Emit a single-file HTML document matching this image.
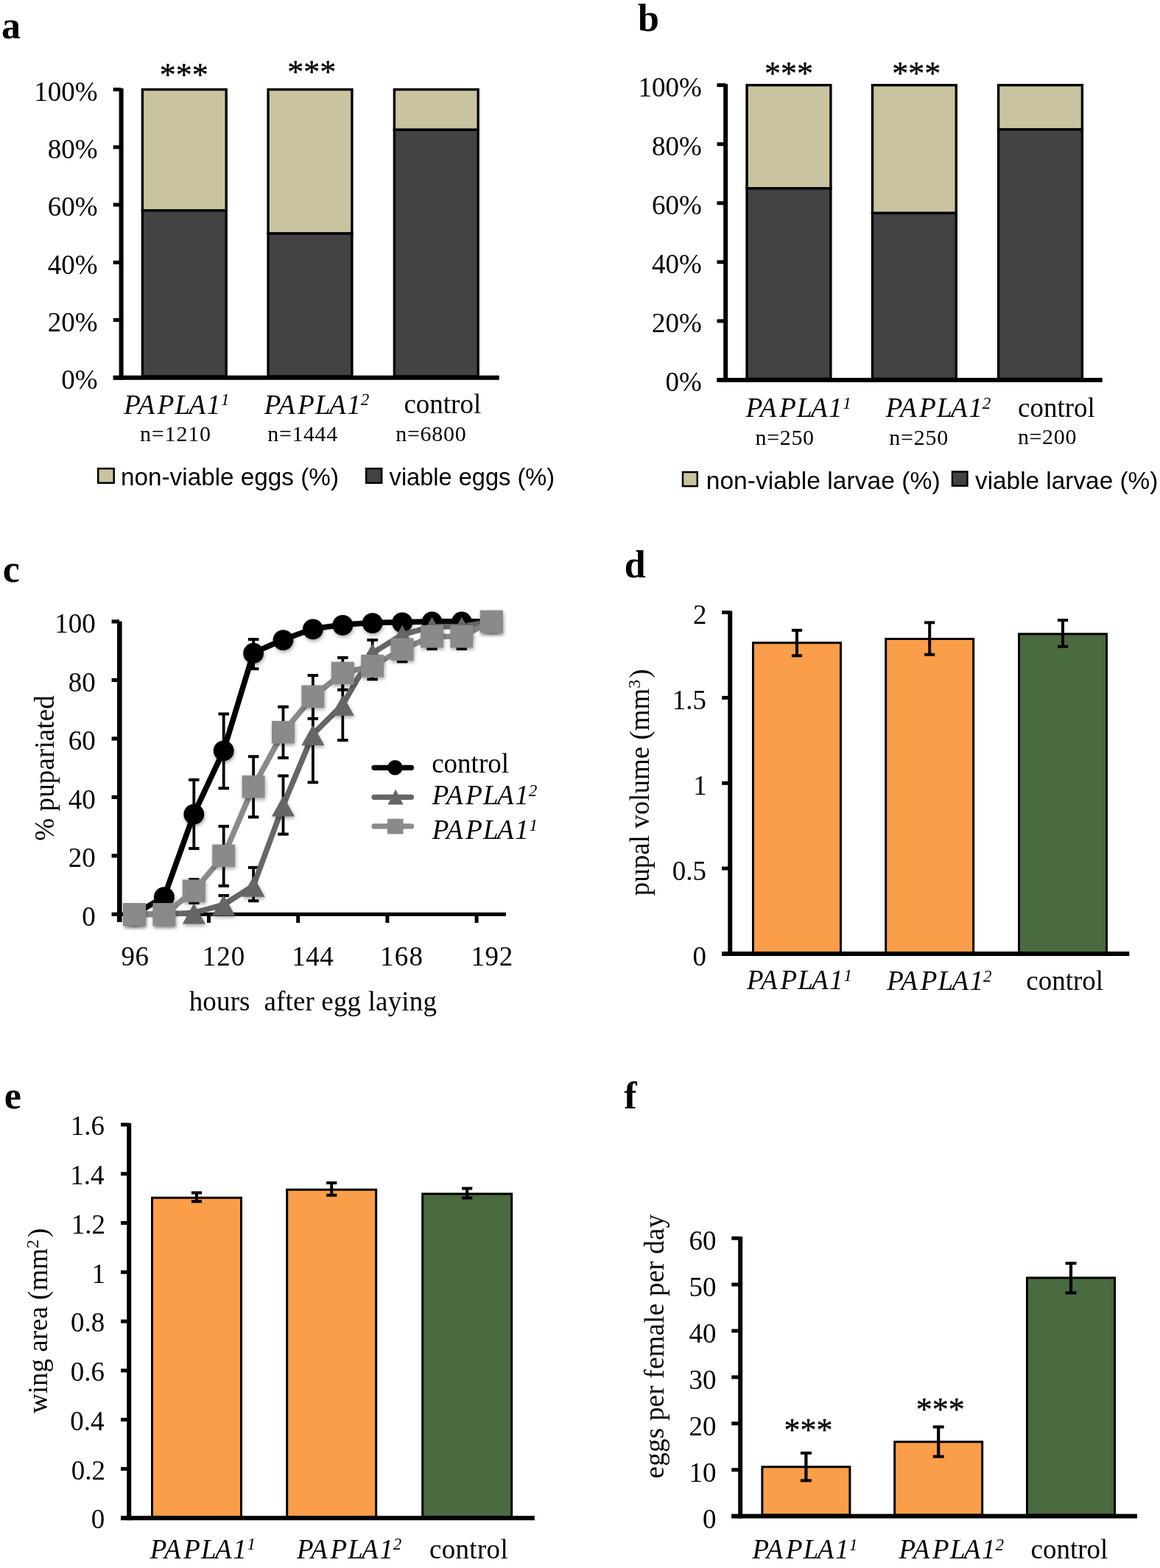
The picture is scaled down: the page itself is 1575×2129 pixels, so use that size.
<!DOCTYPE html>
<html><head><meta charset="utf-8"><title>Figure</title>
<style>
html,body{margin:0;padding:0;background:#fff;}
svg{display:block;}
text{font-family:"Liberation Serif", "Times New Roman", serif;fill:#000;font-kerning:none;}
.s{font-family:"Liberation Sans", Arial, sans-serif;}
</style></head>
<body>
<svg width="1575" height="2129" viewBox="0 0 1575 2129">
<defs>
<filter id="sh" x="-10%" y="-10%" width="130%" height="130%">
<feDropShadow dx="1" dy="2.5" stdDeviation="2.5" flood-color="#000" flood-opacity="0.35"/>
</filter>
</defs>
<rect width="1575" height="2129" fill="#fff"/>
<text x="1.9" y="51.9" font-size="52" font-weight="bold">a</text>
<text x="866.0" y="41.9" font-size="52" font-weight="bold">b</text>
<text x="3.8" y="790.0" font-size="52" font-weight="bold">c</text>
<text x="847.7" y="783.7" font-size="52" font-weight="bold">d</text>
<text x="5.8" y="1505.0" font-size="52" font-weight="bold">e</text>
<text x="847.2" y="1505.0" font-size="52" font-weight="bold">f</text>
<rect x="193.4" y="121.5" width="113.8" height="164.3" fill="#C9C49F" stroke="#000" stroke-width="3.4"/>
<rect x="193.4" y="285.8" width="113.8" height="225.3" fill="#434343" stroke="#000" stroke-width="3.4"/>
<rect x="364.1" y="121.5" width="113.8" height="195.6" fill="#C9C49F" stroke="#000" stroke-width="3.4"/>
<rect x="364.1" y="317.1" width="113.8" height="193.9" fill="#434343" stroke="#000" stroke-width="3.4"/>
<rect x="535.4" y="121.5" width="113.8" height="54.8" fill="#C9C49F" stroke="#000" stroke-width="3.4"/>
<rect x="535.4" y="176.3" width="113.8" height="334.8" fill="#434343" stroke="#000" stroke-width="3.4"/>
<rect x="161.6" y="120.0" width="6.0" height="395.8" fill="#000"/>
<rect x="153.7" y="509.8" width="524.0" height="6.0" fill="#000"/>
<rect x="153.7" y="510.3" width="10.9" height="5.0" fill="#000"/>
<rect x="153.7" y="432.0" width="10.9" height="5.0" fill="#000"/>
<rect x="153.7" y="353.8" width="10.9" height="5.0" fill="#000"/>
<rect x="153.7" y="275.5" width="10.9" height="5.0" fill="#000"/>
<rect x="153.7" y="197.3" width="10.9" height="5.0" fill="#000"/>
<rect x="153.7" y="119.0" width="10.9" height="5.0" fill="#000"/>
<text x="83.3" y="528.0" font-size="37">0%</text>
<text x="64.8" y="449.7" font-size="37">20%</text>
<text x="64.8" y="371.5" font-size="37">40%</text>
<text x="64.8" y="293.2" font-size="37">60%</text>
<text x="64.8" y="215.0" font-size="37">80%</text>
<text x="46.3" y="136.7" font-size="37">100%</text>
<text x="249.8" y="115.7" font-size="44" text-anchor="middle" stroke="#000" stroke-width="0.4">***</text>
<text x="423.3" y="111.5" font-size="44" text-anchor="middle" stroke="#000" stroke-width="0.4">***</text>
<text x="168.3 187.4 213.8 237.6 256.5 280.7" y="561.6" font-size="37" font-style="italic">PAPLA1<tspan x="299.9" font-size="23" dy="-11.2">1</tspan></text>
<text x="358.8 377.9 404.3 428.1 447.0 471.2" y="561.6" font-size="37" font-style="italic">PAPLA1<tspan x="489.7" font-size="23" dy="-11.2">2</tspan></text>
<text x="548.4" y="561.0" font-size="37">control</text>
<text x="190.0" y="599.2" font-size="30" letter-spacing="0.84">n=1210</text>
<text x="363.3" y="599.2" font-size="30" letter-spacing="0.59">n=1444</text>
<text x="537.3" y="599.0" font-size="30" letter-spacing="0.70">n=6800</text>
<rect x="133.2" y="636.2" width="21.5" height="19.5" fill="#C9C49F" stroke="#000" stroke-width="2.5"/>
<text x="164" y="659" class="s" font-size="33" textLength="296" lengthAdjust="spacingAndGlyphs">non-viable eggs (%)</text>
<rect x="497.2" y="636.2" width="21.0" height="19.5" fill="#434343" stroke="#000" stroke-width="2.5"/>
<text x="528.6" y="659" class="s" font-size="33" textLength="224.5" lengthAdjust="spacingAndGlyphs">viable eggs (%)</text>
<rect x="1014.1" y="115.6" width="113.8" height="140.1" fill="#C9C49F" stroke="#000" stroke-width="3.4"/>
<rect x="1014.1" y="255.7" width="113.8" height="258.6" fill="#434343" stroke="#000" stroke-width="3.4"/>
<rect x="1184.5" y="115.6" width="113.8" height="173.8" fill="#C9C49F" stroke="#000" stroke-width="3.4"/>
<rect x="1184.5" y="289.4" width="113.8" height="224.9" fill="#434343" stroke="#000" stroke-width="3.4"/>
<rect x="1355.6" y="115.6" width="113.8" height="60.1" fill="#C9C49F" stroke="#000" stroke-width="3.4"/>
<rect x="1355.6" y="175.7" width="113.8" height="338.6" fill="#434343" stroke="#000" stroke-width="3.4"/>
<rect x="982.2" y="114.1" width="6.0" height="404.9" fill="#000"/>
<rect x="973.5" y="513.0" width="523.2" height="6.0" fill="#000"/>
<rect x="973.5" y="513.5" width="11.7" height="5.0" fill="#000"/>
<rect x="973.5" y="433.4" width="11.7" height="5.0" fill="#000"/>
<rect x="973.5" y="353.3" width="11.7" height="5.0" fill="#000"/>
<rect x="973.5" y="273.3" width="11.7" height="5.0" fill="#000"/>
<rect x="973.5" y="193.2" width="11.7" height="5.0" fill="#000"/>
<rect x="973.5" y="113.1" width="11.7" height="5.0" fill="#000"/>
<text x="903.6" y="531.0" font-size="37">0%</text>
<text x="885.1" y="450.9" font-size="37">20%</text>
<text x="885.1" y="370.8" font-size="37">40%</text>
<text x="885.1" y="290.8" font-size="37">60%</text>
<text x="885.1" y="210.7" font-size="37">80%</text>
<text x="866.6" y="130.6" font-size="37">100%</text>
<text x="1071.1" y="113.8" font-size="44" text-anchor="middle" stroke="#000" stroke-width="0.4">***</text>
<text x="1244.2" y="114.2" font-size="44" text-anchor="middle" stroke="#000" stroke-width="0.4">***</text>
<text x="1012.7 1031.8 1058.2 1082.0 1100.9 1125.1" y="566.2" font-size="37" font-style="italic">PAPLA1<tspan x="1144.3" font-size="23" dy="-11.2">1</tspan></text>
<text x="1202.8 1221.9 1248.3 1272.1 1291.0 1315.2" y="566.3" font-size="37" font-style="italic">PAPLA1<tspan x="1333.7" font-size="23" dy="-11.2">2</tspan></text>
<text x="1382.0" y="565.8" font-size="37">control</text>
<text x="1025.6" y="603.6" font-size="30" letter-spacing="0.65">n=250</text>
<text x="1207.3" y="603.6" font-size="30" letter-spacing="0.73">n=250</text>
<text x="1381.9" y="603.4" font-size="30" letter-spacing="0.65">n=200</text>
<rect x="927.0" y="641.0" width="19.8" height="19.1" fill="#C9C49F" stroke="#000" stroke-width="2.5"/>
<text x="958.7" y="664" class="s" font-size="33" textLength="318" lengthAdjust="spacingAndGlyphs">non-viable larvae (%)</text>
<rect x="1293.0" y="640.5" width="20.4" height="19.1" fill="#434343" stroke="#000" stroke-width="2.5"/>
<text x="1324" y="664" class="s" font-size="33" textLength="248.3" lengthAdjust="spacingAndGlyphs">viable larvae (%)</text>
<rect x="159.0" y="843.5" width="6.6" height="408.5" fill="#000"/>
<rect x="159.0" y="1238.9" width="528.0" height="5.0" fill="#000"/>
<rect x="151.6" y="1238.8" width="10.4" height="5.2" fill="#000"/>
<rect x="151.6" y="1159.3" width="10.4" height="5.2" fill="#000"/>
<rect x="151.6" y="1079.8" width="10.4" height="5.2" fill="#000"/>
<rect x="151.6" y="1000.3" width="10.4" height="5.2" fill="#000"/>
<rect x="151.6" y="920.8" width="10.4" height="5.2" fill="#000"/>
<rect x="151.6" y="841.3" width="10.4" height="5.2" fill="#000"/>
<rect x="281.0" y="1241.0" width="5.0" height="12.0" fill="#000"/>
<rect x="402.2" y="1241.0" width="5.0" height="12.0" fill="#000"/>
<rect x="523.4" y="1241.0" width="5.0" height="12.0" fill="#000"/>
<rect x="644.6" y="1241.0" width="5.0" height="12.0" fill="#000"/>
<text x="111.3" y="1256.7" font-size="37">0</text>
<text x="92.8" y="1177.2" font-size="37">20</text>
<text x="92.8" y="1097.7" font-size="37">40</text>
<text x="92.8" y="1018.2" font-size="37">60</text>
<text x="92.8" y="938.7" font-size="37">80</text>
<text x="74.3" y="859.2" font-size="37">100</text>
<text x="164.6" y="1311.2" font-size="37" letter-spacing="0.29">96</text>
<text x="274.8" y="1311.2" font-size="37" letter-spacing="0.93">120</text>
<text x="396.3" y="1311.2" font-size="37" letter-spacing="0.52">144</text>
<text x="516.0" y="1311.2" font-size="37" letter-spacing="1.28">168</text>
<text x="639.4" y="1311.2" font-size="37" letter-spacing="0.65">192</text>
<text x="256.7" y="1372.3" font-size="37" letter-spacing="0.15">hours&#160; after egg laying</text>
<text transform="translate(72.5,1140.4) rotate(-90)" x="-1.3" y="0" font-size="37" letter-spacing="0.11">% pupariated</text>
<line x1="263.3" y1="1058.8" x2="263.3" y2="1152.1" stroke="#000" stroke-width="3.8" stroke-linecap="butt"/>
<line x1="256.1" y1="1058.8" x2="270.6" y2="1058.8" stroke="#000" stroke-width="4.0" stroke-linecap="butt"/>
<line x1="256.1" y1="1152.1" x2="270.6" y2="1152.1" stroke="#000" stroke-width="4.0" stroke-linecap="butt"/>
<line x1="303.7" y1="969.4" x2="303.7" y2="1070.3" stroke="#000" stroke-width="3.8" stroke-linecap="butt"/>
<line x1="296.5" y1="969.4" x2="311.0" y2="969.4" stroke="#000" stroke-width="4.0" stroke-linecap="butt"/>
<line x1="296.5" y1="1070.3" x2="311.0" y2="1070.3" stroke="#000" stroke-width="4.0" stroke-linecap="butt"/>
<line x1="344.1" y1="868.1" x2="344.1" y2="908.1" stroke="#000" stroke-width="3.8" stroke-linecap="butt"/>
<line x1="336.9" y1="868.1" x2="351.4" y2="868.1" stroke="#000" stroke-width="4.0" stroke-linecap="butt"/>
<line x1="336.9" y1="908.1" x2="351.4" y2="908.1" stroke="#000" stroke-width="4.0" stroke-linecap="butt"/>
<line x1="263.3" y1="1194.0" x2="263.3" y2="1226.0" stroke="#000" stroke-width="3.8" stroke-linecap="butt"/>
<line x1="256.1" y1="1194.0" x2="270.6" y2="1194.0" stroke="#000" stroke-width="4.0" stroke-linecap="butt"/>
<line x1="256.1" y1="1226.0" x2="270.6" y2="1226.0" stroke="#000" stroke-width="4.0" stroke-linecap="butt"/>
<line x1="303.7" y1="1121.9" x2="303.7" y2="1202.8" stroke="#000" stroke-width="3.8" stroke-linecap="butt"/>
<line x1="296.5" y1="1121.9" x2="311.0" y2="1121.9" stroke="#000" stroke-width="4.0" stroke-linecap="butt"/>
<line x1="296.5" y1="1202.8" x2="311.0" y2="1202.8" stroke="#000" stroke-width="4.0" stroke-linecap="butt"/>
<line x1="344.1" y1="1027.2" x2="344.1" y2="1109.4" stroke="#000" stroke-width="3.8" stroke-linecap="butt"/>
<line x1="336.9" y1="1027.2" x2="351.4" y2="1027.2" stroke="#000" stroke-width="4.0" stroke-linecap="butt"/>
<line x1="336.9" y1="1109.4" x2="351.4" y2="1109.4" stroke="#000" stroke-width="4.0" stroke-linecap="butt"/>
<line x1="384.5" y1="959.7" x2="384.5" y2="1029.0" stroke="#000" stroke-width="3.8" stroke-linecap="butt"/>
<line x1="377.2" y1="959.7" x2="391.8" y2="959.7" stroke="#000" stroke-width="4.0" stroke-linecap="butt"/>
<line x1="377.2" y1="1029.0" x2="391.8" y2="1029.0" stroke="#000" stroke-width="4.0" stroke-linecap="butt"/>
<line x1="424.9" y1="917.0" x2="424.9" y2="975.7" stroke="#000" stroke-width="3.8" stroke-linecap="butt"/>
<line x1="417.6" y1="917.0" x2="432.1" y2="917.0" stroke="#000" stroke-width="4.0" stroke-linecap="butt"/>
<line x1="417.6" y1="975.7" x2="432.1" y2="975.7" stroke="#000" stroke-width="4.0" stroke-linecap="butt"/>
<line x1="465.3" y1="893.0" x2="465.3" y2="936.6" stroke="#000" stroke-width="3.8" stroke-linecap="butt"/>
<line x1="458.1" y1="893.0" x2="472.6" y2="893.0" stroke="#000" stroke-width="4.0" stroke-linecap="butt"/>
<line x1="458.1" y1="936.6" x2="472.6" y2="936.6" stroke="#000" stroke-width="4.0" stroke-linecap="butt"/>
<line x1="505.7" y1="888.0" x2="505.7" y2="922.3" stroke="#000" stroke-width="3.8" stroke-linecap="butt"/>
<line x1="498.4" y1="888.0" x2="513.0" y2="888.0" stroke="#000" stroke-width="4.0" stroke-linecap="butt"/>
<line x1="498.4" y1="922.3" x2="513.0" y2="922.3" stroke="#000" stroke-width="4.0" stroke-linecap="butt"/>
<line x1="546.1" y1="867.0" x2="546.1" y2="898.3" stroke="#000" stroke-width="3.8" stroke-linecap="butt"/>
<line x1="538.9" y1="867.0" x2="553.4" y2="867.0" stroke="#000" stroke-width="4.0" stroke-linecap="butt"/>
<line x1="538.9" y1="898.3" x2="553.4" y2="898.3" stroke="#000" stroke-width="4.0" stroke-linecap="butt"/>
<line x1="586.5" y1="846.0" x2="586.5" y2="881.0" stroke="#000" stroke-width="3.8" stroke-linecap="butt"/>
<line x1="579.2" y1="846.0" x2="593.8" y2="846.0" stroke="#000" stroke-width="4.0" stroke-linecap="butt"/>
<line x1="579.2" y1="881.0" x2="593.8" y2="881.0" stroke="#000" stroke-width="4.0" stroke-linecap="butt"/>
<line x1="626.9" y1="846.0" x2="626.9" y2="881.0" stroke="#000" stroke-width="3.8" stroke-linecap="butt"/>
<line x1="619.6" y1="846.0" x2="634.1" y2="846.0" stroke="#000" stroke-width="4.0" stroke-linecap="butt"/>
<line x1="619.6" y1="881.0" x2="634.1" y2="881.0" stroke="#000" stroke-width="4.0" stroke-linecap="butt"/>
<line x1="303.7" y1="1216.0" x2="303.7" y2="1242.0" stroke="#000" stroke-width="3.8" stroke-linecap="butt"/>
<line x1="296.5" y1="1216.0" x2="311.0" y2="1216.0" stroke="#000" stroke-width="4.0" stroke-linecap="butt"/>
<line x1="296.5" y1="1242.0" x2="311.0" y2="1242.0" stroke="#000" stroke-width="4.0" stroke-linecap="butt"/>
<line x1="344.1" y1="1177.9" x2="344.1" y2="1223.2" stroke="#000" stroke-width="3.8" stroke-linecap="butt"/>
<line x1="336.9" y1="1177.9" x2="351.4" y2="1177.9" stroke="#000" stroke-width="4.0" stroke-linecap="butt"/>
<line x1="336.9" y1="1223.2" x2="351.4" y2="1223.2" stroke="#000" stroke-width="4.0" stroke-linecap="butt"/>
<line x1="384.5" y1="1053.4" x2="384.5" y2="1132.6" stroke="#000" stroke-width="3.8" stroke-linecap="butt"/>
<line x1="377.2" y1="1053.4" x2="391.8" y2="1053.4" stroke="#000" stroke-width="4.0" stroke-linecap="butt"/>
<line x1="377.2" y1="1132.6" x2="391.8" y2="1132.6" stroke="#000" stroke-width="4.0" stroke-linecap="butt"/>
<line x1="424.9" y1="934.0" x2="424.9" y2="1062.3" stroke="#000" stroke-width="3.8" stroke-linecap="butt"/>
<line x1="417.6" y1="934.0" x2="432.1" y2="934.0" stroke="#000" stroke-width="4.0" stroke-linecap="butt"/>
<line x1="417.6" y1="1062.3" x2="432.1" y2="1062.3" stroke="#000" stroke-width="4.0" stroke-linecap="butt"/>
<line x1="465.3" y1="911.0" x2="465.3" y2="1005.0" stroke="#000" stroke-width="3.8" stroke-linecap="butt"/>
<line x1="458.1" y1="911.0" x2="472.6" y2="911.0" stroke="#000" stroke-width="4.0" stroke-linecap="butt"/>
<line x1="458.1" y1="1005.0" x2="472.6" y2="1005.0" stroke="#000" stroke-width="4.0" stroke-linecap="butt"/>
<line x1="505.7" y1="869.0" x2="505.7" y2="905.0" stroke="#000" stroke-width="3.8" stroke-linecap="butt"/>
<line x1="498.4" y1="869.0" x2="513.0" y2="869.0" stroke="#000" stroke-width="4.0" stroke-linecap="butt"/>
<line x1="498.4" y1="905.0" x2="513.0" y2="905.0" stroke="#000" stroke-width="4.0" stroke-linecap="butt"/>
<polyline points="182.5,1241.4 222.9,1217.6 263.3,1105.1 303.7,1018.8 344.1,886.4 384.5,868.5 424.9,853.8 465.3,848.3 505.7,845.5 546.1,844.7 586.5,843.9 626.9,843.9 667.3,843.9" fill="none" stroke="#000000" stroke-width="7.6" stroke-linejoin="round"/>
<g filter="url(#sh)">
<circle cx="182.5" cy="1242.0" r="13.9" fill="#000000"/>
<circle cx="222.9" cy="1218.2" r="13.9" fill="#000000"/>
<circle cx="263.3" cy="1105.7" r="13.9" fill="#000000"/>
<circle cx="303.7" cy="1019.4" r="13.9" fill="#000000"/>
<circle cx="344.1" cy="887.0" r="13.9" fill="#000000"/>
<circle cx="384.5" cy="869.1" r="13.9" fill="#000000"/>
<circle cx="424.9" cy="854.4" r="13.9" fill="#000000"/>
<circle cx="465.3" cy="848.9" r="13.9" fill="#000000"/>
<circle cx="505.7" cy="846.1" r="13.9" fill="#000000"/>
<circle cx="546.1" cy="845.3" r="13.9" fill="#000000"/>
<circle cx="586.5" cy="844.5" r="13.9" fill="#000000"/>
<circle cx="626.9" cy="844.5" r="13.9" fill="#000000"/>
<circle cx="667.3" cy="844.5" r="13.9" fill="#000000"/>
</g>
<polyline points="182.5,1241.4 222.9,1241.4 263.3,1239.4 303.7,1228.3 344.1,1202.8 384.5,1093.5 424.9,996.9 465.3,956.8 505.7,886.8 546.1,861.8 586.5,850.7 626.9,850.7 667.3,843.9" fill="none" stroke="#666666" stroke-width="7.6" stroke-linejoin="round"/>
<g filter="url(#sh)">
<polygon points="167.0,1256.4 198.0,1256.4 182.5,1228.4" fill="#666666"/>
<polygon points="207.4,1256.4 238.4,1256.4 222.9,1228.4" fill="#666666"/>
<polygon points="247.8,1254.4 278.8,1254.4 263.3,1226.4" fill="#666666"/>
<polygon points="288.2,1243.3 319.2,1243.3 303.7,1215.3" fill="#666666"/>
<polygon points="328.6,1217.8 359.6,1217.8 344.1,1189.8" fill="#666666"/>
<polygon points="369.0,1108.5 400.0,1108.5 384.5,1080.5" fill="#666666"/>
<polygon points="409.4,1011.9 440.4,1011.9 424.9,983.9" fill="#666666"/>
<polygon points="449.8,971.8 480.8,971.8 465.3,943.8" fill="#666666"/>
<polygon points="490.2,901.8 521.2,901.8 505.7,873.8" fill="#666666"/>
<polygon points="530.6,876.8 561.6,876.8 546.1,848.8" fill="#666666"/>
<polygon points="571.0,865.7 602.0,865.7 586.5,837.7" fill="#666666"/>
<polygon points="611.4,865.7 642.4,865.7 626.9,837.7" fill="#666666"/>
<polygon points="651.8,858.9 682.8,858.9 667.3,830.9" fill="#666666"/>
</g>
<polyline points="182.5,1241.4 222.9,1241.4 263.3,1209.6 303.7,1161.9 344.1,1068.1 384.5,994.2 424.9,945.7 465.3,913.9 505.7,904.3 546.1,881.7 586.5,864.2 626.9,864.2 667.3,843.9" fill="none" stroke="#8A8A8A" stroke-width="7.6" stroke-linejoin="round"/>
<g filter="url(#sh)">
<rect x="167.0" y="1226.1" width="31.0" height="30.6" fill="#8A8A8A"/>
<rect x="207.4" y="1226.1" width="31.0" height="30.6" fill="#8A8A8A"/>
<rect x="247.8" y="1194.3" width="31.0" height="30.6" fill="#8A8A8A"/>
<rect x="288.2" y="1146.6" width="31.0" height="30.6" fill="#8A8A8A"/>
<rect x="328.6" y="1052.8" width="31.0" height="30.6" fill="#8A8A8A"/>
<rect x="369.0" y="978.9" width="31.0" height="30.6" fill="#8A8A8A"/>
<rect x="409.4" y="930.4" width="31.0" height="30.6" fill="#8A8A8A"/>
<rect x="449.8" y="898.6" width="31.0" height="30.6" fill="#8A8A8A"/>
<rect x="490.2" y="889.0" width="31.0" height="30.6" fill="#8A8A8A"/>
<rect x="530.6" y="866.4" width="31.0" height="30.6" fill="#8A8A8A"/>
<rect x="571.0" y="848.9" width="31.0" height="30.6" fill="#8A8A8A"/>
<rect x="611.4" y="848.9" width="31.0" height="30.6" fill="#8A8A8A"/>
<rect x="651.8" y="828.6" width="31.0" height="30.6" fill="#8A8A8A"/>
</g>
<line x1="508.0" y1="1042.3" x2="558.5" y2="1042.3" stroke="#000000" stroke-width="7.2" stroke-linecap="round"/>
<circle cx="536.4" cy="1042.3" r="10.3" fill="#000000"/>
<text x="586.2" y="1048.8" font-size="37">control</text>
<line x1="508.0" y1="1082.3" x2="558.5" y2="1082.3" stroke="#666666" stroke-width="7.2" stroke-linecap="round"/>
<polygon points="526.5,1092.4 547.7,1092.4 537.1,1071.8" fill="#666666"/>
<text x="586.8 605.9 632.3 656.1 675.0 699.2" y="1092.4" font-size="37" font-style="italic">PAPLA1<tspan x="717.7" font-size="23" dy="-11.2">2</tspan></text>
<line x1="508.0" y1="1121.9" x2="558.5" y2="1121.9" stroke="#8A8A8A" stroke-width="7.2" stroke-linecap="round"/>
<rect x="526.0" y="1111.7" width="21.6" height="20.8" fill="#8A8A8A"/>
<text x="586.8 605.9 632.3 656.1 675.0 699.2" y="1139.2" font-size="37" font-style="italic">PAPLA1<tspan x="718.4" font-size="23" dy="-11.2">1</tspan></text>
<rect x="1022.5" y="872.8" width="119.0" height="420.7" fill="#FA9E4A" stroke="#000" stroke-width="3"/>
<rect x="1202.7" y="867.5" width="119.0" height="426.0" fill="#FA9E4A" stroke="#000" stroke-width="3"/>
<rect x="1383.5" y="860.8" width="119.0" height="432.7" fill="#4A6A3F" stroke="#000" stroke-width="3"/>
<line x1="1082.0" y1="855.8" x2="1082.0" y2="890.3" stroke="#000" stroke-width="4.0" stroke-linecap="butt"/>
<line x1="1074.9" y1="855.8" x2="1089.1" y2="855.8" stroke="#000" stroke-width="4.0" stroke-linecap="butt"/>
<line x1="1074.9" y1="890.3" x2="1089.1" y2="890.3" stroke="#000" stroke-width="4.0" stroke-linecap="butt"/>
<line x1="1262.2" y1="845.3" x2="1262.2" y2="888.8" stroke="#000" stroke-width="4.0" stroke-linecap="butt"/>
<line x1="1255.1" y1="845.3" x2="1269.3" y2="845.3" stroke="#000" stroke-width="4.0" stroke-linecap="butt"/>
<line x1="1255.1" y1="888.8" x2="1269.3" y2="888.8" stroke="#000" stroke-width="4.0" stroke-linecap="butt"/>
<line x1="1443.0" y1="842.1" x2="1443.0" y2="877.9" stroke="#000" stroke-width="4.0" stroke-linecap="butt"/>
<line x1="1435.9" y1="842.1" x2="1450.1" y2="842.1" stroke="#000" stroke-width="4.0" stroke-linecap="butt"/>
<line x1="1435.9" y1="877.9" x2="1450.1" y2="877.9" stroke="#000" stroke-width="4.0" stroke-linecap="butt"/>
<rect x="988.3" y="829.5" width="6.0" height="468.5" fill="#000"/>
<rect x="980.2" y="1292.0" width="553.1" height="6.0" fill="#000"/>
<rect x="980.2" y="1292.5" width="11.1" height="5.0" fill="#000"/>
<rect x="980.2" y="1176.6" width="11.1" height="5.0" fill="#000"/>
<rect x="980.2" y="1060.8" width="11.1" height="5.0" fill="#000"/>
<rect x="980.2" y="944.9" width="11.1" height="5.0" fill="#000"/>
<rect x="980.2" y="829.0" width="11.1" height="5.0" fill="#000"/>
<text x="940.5" y="1310.6" font-size="37">0</text>
<text x="912.8" y="1194.7" font-size="37">0.5</text>
<text x="941.3" y="1078.8" font-size="37">1</text>
<text x="912.8" y="963.0" font-size="37">1.5</text>
<text x="941.1" y="847.1" font-size="37">2</text>
<text x="1013.9 1033.0 1059.4 1083.2 1102.1 1126.3" y="1343.4" font-size="37" font-style="italic">PAPLA1<tspan x="1145.5" font-size="23" dy="-11.2">1</tspan></text>
<text x="1204.2 1223.3 1249.7 1273.5 1292.4 1316.6" y="1344.0" font-size="37" font-style="italic">PAPLA1<tspan x="1335.1" font-size="23" dy="-11.2">2</tspan></text>
<text x="1393.3" y="1344.0" font-size="37">control</text>
<text transform="translate(880.6,1215.7) rotate(-90)" x="-0.6" y="0" font-size="37">pupal volume (mm<tspan font-size="24" dy="-12">3</tspan><tspan dy="12" dx="2">)</tspan></text>
<rect x="206.5" y="1626.3" width="121.0" height="433.4" fill="#FA9E4A" stroke="#000" stroke-width="3"/>
<rect x="389.7" y="1615.3" width="121.0" height="444.4" fill="#FA9E4A" stroke="#000" stroke-width="3"/>
<rect x="573.7" y="1621.0" width="121.0" height="438.7" fill="#4A6A3F" stroke="#000" stroke-width="3"/>
<line x1="267.0" y1="1619.5" x2="267.0" y2="1631.3" stroke="#000" stroke-width="4.0" stroke-linecap="butt"/>
<line x1="259.9" y1="1619.5" x2="274.1" y2="1619.5" stroke="#000" stroke-width="4.0" stroke-linecap="butt"/>
<line x1="259.9" y1="1631.3" x2="274.1" y2="1631.3" stroke="#000" stroke-width="4.0" stroke-linecap="butt"/>
<line x1="450.2" y1="1606.1" x2="450.2" y2="1622.8" stroke="#000" stroke-width="4.0" stroke-linecap="butt"/>
<line x1="443.1" y1="1606.1" x2="457.3" y2="1606.1" stroke="#000" stroke-width="4.0" stroke-linecap="butt"/>
<line x1="443.1" y1="1622.8" x2="457.3" y2="1622.8" stroke="#000" stroke-width="4.0" stroke-linecap="butt"/>
<line x1="634.2" y1="1613.6" x2="634.2" y2="1626.5" stroke="#000" stroke-width="4.0" stroke-linecap="butt"/>
<line x1="627.1" y1="1613.6" x2="641.3" y2="1613.6" stroke="#000" stroke-width="4.0" stroke-linecap="butt"/>
<line x1="627.1" y1="1626.5" x2="641.3" y2="1626.5" stroke="#000" stroke-width="4.0" stroke-linecap="butt"/>
<rect x="172.2" y="1525.0" width="6.0" height="539.2" fill="#000"/>
<rect x="164.0" y="2058.2" width="561.8" height="6.0" fill="#000"/>
<rect x="164.0" y="2058.7" width="11.2" height="5.0" fill="#000"/>
<rect x="164.0" y="1991.9" width="11.2" height="5.0" fill="#000"/>
<rect x="164.0" y="1925.1" width="11.2" height="5.0" fill="#000"/>
<rect x="164.0" y="1858.4" width="11.2" height="5.0" fill="#000"/>
<rect x="164.0" y="1791.6" width="11.2" height="5.0" fill="#000"/>
<rect x="164.0" y="1724.8" width="11.2" height="5.0" fill="#000"/>
<rect x="164.0" y="1658.0" width="11.2" height="5.0" fill="#000"/>
<rect x="164.0" y="1591.3" width="11.2" height="5.0" fill="#000"/>
<rect x="164.0" y="1524.5" width="11.2" height="5.0" fill="#000"/>
<text x="123.8" y="2075.4" font-size="37">0</text>
<text x="96.7" y="2008.6" font-size="37">0.2</text>
<text x="95.2" y="1941.8" font-size="37">0.4</text>
<text x="95.8" y="1875.1" font-size="37">0.6</text>
<text x="96.1" y="1808.3" font-size="37">0.8</text>
<text x="124.6" y="1741.5" font-size="37">1</text>
<text x="96.7" y="1674.8" font-size="37">1.2</text>
<text x="95.2" y="1608.0" font-size="37">1.4</text>
<text x="95.8" y="1541.2" font-size="37">1.6</text>
<text x="203.8 222.9 249.3 273.1 292.0 316.2" y="2115.5" font-size="37" font-style="italic">PAPLA1<tspan x="335.4" font-size="23" dy="-11.2">1</tspan></text>
<text x="402.9 422.0 448.4 472.2 491.1 515.3" y="2115.5" font-size="37" font-style="italic">PAPLA1<tspan x="533.8" font-size="23" dy="-11.2">2</tspan></text>
<text x="583.0" y="2115.9" font-size="37" letter-spacing="0.31">control</text>
<text transform="translate(64.4,1919.0) rotate(-90)" x="-0.0" y="0" font-size="37">wing area (mm<tspan font-size="24" dy="-12">2</tspan><tspan dy="12" dx="3">)</tspan></text>
<rect x="1034.9" y="1991.7" width="119.0" height="65.4" fill="#FA9E4A" stroke="#000" stroke-width="3"/>
<rect x="1214.7" y="1957.7" width="119.0" height="99.4" fill="#FA9E4A" stroke="#000" stroke-width="3"/>
<rect x="1394.5" y="1735.0" width="119.0" height="322.1" fill="#4A6A3F" stroke="#000" stroke-width="3"/>
<line x1="1094.4" y1="1972.9" x2="1094.4" y2="2010.3" stroke="#000" stroke-width="4.2" stroke-linecap="butt"/>
<line x1="1086.9" y1="1972.9" x2="1101.9" y2="1972.9" stroke="#000" stroke-width="4.0" stroke-linecap="butt"/>
<line x1="1086.9" y1="2010.3" x2="1101.9" y2="2010.3" stroke="#000" stroke-width="4.0" stroke-linecap="butt"/>
<line x1="1274.2" y1="1937.4" x2="1274.2" y2="1977.7" stroke="#000" stroke-width="4.2" stroke-linecap="butt"/>
<line x1="1266.7" y1="1937.4" x2="1281.7" y2="1937.4" stroke="#000" stroke-width="4.0" stroke-linecap="butt"/>
<line x1="1266.7" y1="1977.7" x2="1281.7" y2="1977.7" stroke="#000" stroke-width="4.0" stroke-linecap="butt"/>
<line x1="1454.0" y1="1715.3" x2="1454.0" y2="1755.4" stroke="#000" stroke-width="4.2" stroke-linecap="butt"/>
<line x1="1446.5" y1="1715.3" x2="1461.5" y2="1715.3" stroke="#000" stroke-width="4.0" stroke-linecap="butt"/>
<line x1="1446.5" y1="1755.4" x2="1461.5" y2="1755.4" stroke="#000" stroke-width="4.0" stroke-linecap="butt"/>
<rect x="1002.2" y="1679.2" width="6.0" height="382.4" fill="#000"/>
<rect x="993.3" y="2055.6" width="550.7" height="6.0" fill="#000"/>
<rect x="993.3" y="2056.1" width="11.9" height="5.0" fill="#000"/>
<rect x="993.3" y="1993.2" width="11.9" height="5.0" fill="#000"/>
<rect x="993.3" y="1930.3" width="11.9" height="5.0" fill="#000"/>
<rect x="993.3" y="1867.4" width="11.9" height="5.0" fill="#000"/>
<rect x="993.3" y="1804.5" width="11.9" height="5.0" fill="#000"/>
<rect x="993.3" y="1741.6" width="11.9" height="5.0" fill="#000"/>
<rect x="993.3" y="1678.7" width="11.9" height="5.0" fill="#000"/>
<text x="954.1" y="2074.6" font-size="37">0</text>
<text x="935.6" y="2011.7" font-size="37">10</text>
<text x="935.6" y="1948.8" font-size="37">20</text>
<text x="935.6" y="1885.9" font-size="37">30</text>
<text x="935.6" y="1823.0" font-size="37">40</text>
<text x="935.6" y="1760.1" font-size="37">50</text>
<text x="935.6" y="1697.2" font-size="37">60</text>
<text x="1097.4" y="1955.8" font-size="44" text-anchor="middle" stroke="#000" stroke-width="0.4">***</text>
<text x="1276.8" y="1927.6" font-size="44" text-anchor="middle" stroke="#000" stroke-width="0.4">***</text>
<text x="1021.5 1040.6 1067.0 1090.8 1109.7 1133.9" y="2116.4" font-size="37" font-style="italic">PAPLA1<tspan x="1153.1" font-size="23" dy="-11.2">1</tspan></text>
<text x="1220.6 1239.7 1266.1 1289.9 1308.8 1333.0" y="2116.4" font-size="37" font-style="italic">PAPLA1<tspan x="1351.5" font-size="23" dy="-11.2">2</tspan></text>
<text x="1399.6" y="2116.4" font-size="37">control</text>
<text transform="translate(900.5,2006.0) rotate(-90)" x="-1.4" y="0" font-size="37" letter-spacing="0.24">eggs per female per day</text>
</svg>
</body></html>
